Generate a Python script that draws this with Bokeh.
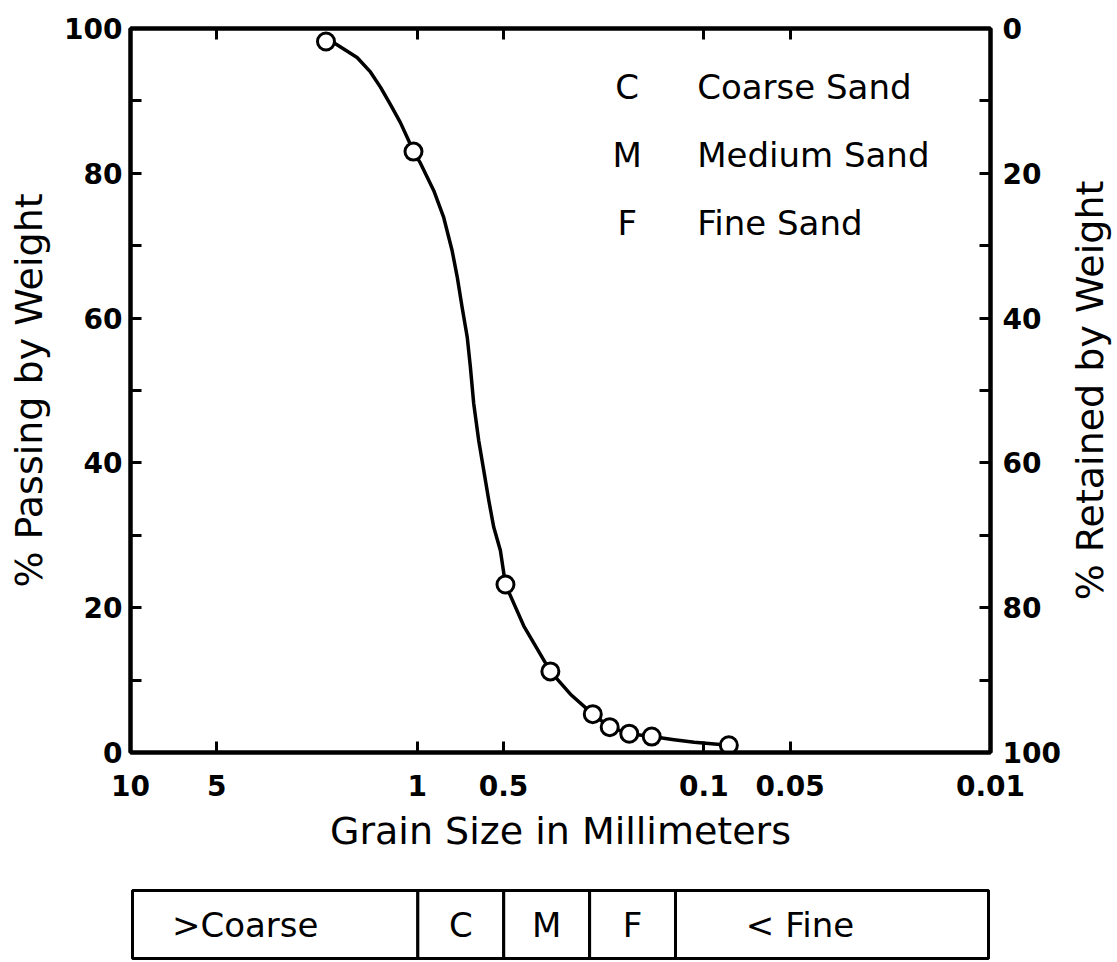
import math
from bokeh.plotting import figure
from bokeh.models import (Range1d, LogAxis, LinearAxis, FixedTicker,
                          CustomJSTickFormatter, Label, ColumnDataSource)
from bokeh.layouts import column, row
from bokeh.core.properties import value
from bokeh.embed import file_html
from bokeh.resources import INLINE

# ---------------- data ----------------
sieve_size_mm = [2.08, 1.03, 0.492, 0.343, 0.244, 0.213, 0.182, 0.152, 0.0818]
percent_passing = [98.2, 83.0, 23.2, 11.2, 5.3, 3.5, 2.6, 2.2, 1.0]

curve_size_mm = [2.08, 1.928, 1.62, 1.456, 1.343, 1.239, 1.144, 1.070, 1.03,
                 0.974, 0.875, 0.808, 0.755, 0.725, 0.697, 0.669, 0.652,
                 0.635, 0.610, 0.586, 0.5625, 0.5405, 0.5125, 0.492, 0.425,
                 0.343, 0.292, 0.244, 0.213, 0.182, 0.152, 0.127, 0.108, 0.0818]
curve_passing = [98.2, 97.9, 96.0, 94.0, 91.9, 89.5, 87.0, 84.5, 83.0,
                 81.4, 77.6, 73.9, 69.3, 65.7, 61.5, 57.4, 53.2,
                 48.2, 43.1, 39.0, 34.8, 31.1, 27.9, 23.2, 17.5,
                 11.2, 8.05, 5.3, 3.5, 2.6, 2.2, 1.77, 1.42, 1.0]

x_tick_values = [10, 5, 1, 0.5, 0.1, 0.05, 0.01]
x_tick_labels = ["10", "5", "1", "0.5", "0.1", "0.05", "0.01"]
y_major_ticks = [0, 20, 40, 60, 80, 100]
y_minor_ticks = [10, 30, 50, 70, 90]

legend_codes = ["C", "M", "F"]
legend_names = ["Coarse Sand", "Medium Sand", "Fine Sand"]

class_labels = [">Coarse", "C", "M", "F", "< Fine"]
class_upper_mm = [10, 1.0, 0.5, 0.25, 0.125]
class_lower_mm = [1.0, 0.5, 0.25, 0.125, 0.01]

right_title = "% Retained by Weight"

# ---------------- styling ----------------
FONT = "DejaVu Sans"
FRAME_W = 860
FRAME_H = 724
BORDER_L = 130
BORDER_T = 28
BORDER_B = 115
TITLE_W = 50
BORDER_R = 1117 - BORDER_L - FRAME_W - TITLE_W
PX_PER_DECADE = FRAME_W / 3.0
LABEL_SIZE = "38px"

p = figure(frame_width=FRAME_W, frame_height=FRAME_H, x_axis_type="log",
           x_range=Range1d(10, 0.01), y_range=Range1d(0, 100),
           output_backend="svg", toolbar_location=None,
           min_border_left=BORDER_L, min_border_right=BORDER_R,
           min_border_top=BORDER_T, min_border_bottom=BORDER_B)
p.grid.visible = False
p.outline_line_color = "black"
p.outline_line_width = 4
p.background_fill_color = "white"
p.border_fill_color = "white"

# bottom axis
xa = p.xaxis[0]
xa.ticker = FixedTicker(ticks=x_tick_values)
xa.formatter = CustomJSTickFormatter(code="return String(tick)")
xa.major_label_overrides = dict(zip([float(v) for v in x_tick_values], x_tick_labels))
xa.axis_label = "Grain Size in Millimeters"

# left axis
ya = p.yaxis[0]
ya.ticker = FixedTicker(ticks=y_major_ticks, minor_ticks=y_minor_ticks)
ya.axis_label = "% Passing by Weight"

# right axis (retained)
p.extra_y_ranges = {"ret": Range1d(100, 0)}
ra = LinearAxis(y_range_name="ret",
                ticker=FixedTicker(ticks=y_major_ticks, minor_ticks=y_minor_ticks))
p.add_layout(ra, "right")

# top axis (ticks only)
ta = LogAxis(ticker=FixedTicker(ticks=x_tick_values),
             formatter=CustomJSTickFormatter(code="return ''"))
p.add_layout(ta, "above")

for ax in [xa, ya, ra, ta]:
    ax.axis_line_width = 4
    ax.axis_line_color = "black"
    ax.major_tick_in = 11
    ax.major_tick_out = 0
    ax.minor_tick_in = 11
    ax.minor_tick_out = 0
    ax.major_tick_line_width = 3
    ax.minor_tick_line_width = 3
    ax.major_tick_line_color = "black"
    ax.minor_tick_line_color = "black"
    ax.major_label_text_font = FONT
    ax.major_label_text_font_style = "bold"
    ax.major_label_text_font_size = "28px"
    ax.major_label_text_color = "black"
    ax.axis_label_text_font = FONT
    ax.axis_label_text_font_style = "normal"
    ax.axis_label_text_font_size = LABEL_SIZE
    ax.axis_label_text_color = "black"

ta.major_label_standoff = 0
ta.major_label_text_font_size = "1px"
xa.major_label_standoff = 22
xa.axis_label_standoff = 10
ya.major_label_standoff = 8
ya.axis_label_standoff = 10
ra.major_label_standoff = 12

# curve and data points
p.line(curve_size_mm, curve_passing, line_color="black", line_width=3.5,
       line_join="round")
p.scatter(sieve_size_mm, percent_passing, marker="circle", size=17,
          fill_color="white", line_color="black", line_width=3)

# key text
legend_y = [91.9, 82.5, 73.1]
for code, name, yy in zip(legend_codes, legend_names, legend_y):
    p.add_layout(Label(x=0.185, y=yy, text=code, text_align="center",
                       text_baseline="alphabetic", text_font=FONT,
                       text_font_size="34px", text_color="black"))
    p.add_layout(Label(x=0.1055, y=yy, text=name, text_align="left",
                       text_baseline="alphabetic", text_font=FONT,
                       text_font_size="34px", text_color="black"))

# ---------------- right-hand axis title strip ----------------
r = figure(frame_width=TITLE_W, frame_height=FRAME_H,
           x_range=Range1d(0, 1), y_range=Range1d(0, 1),
           x_axis_location=None, y_axis_location=None,
           output_backend="svg", toolbar_location=None,
           min_border_left=0, min_border_right=0,
           min_border_top=BORDER_T, min_border_bottom=BORDER_B)
r.grid.visible = False
r.outline_line_color = None
r.background_fill_color = "white"
r.border_fill_color = "white"
r.text(x=[0.45], y=[0.5], text=[right_title], angle=math.pi / 2,
       text_align="center", text_baseline="middle", text_font=value(FONT),
       text_font_size=LABEL_SIZE, text_color="black")

# ---------------- size-class table below ----------------
MARGIN_PX = 2
margin = 10 ** (MARGIN_PX / PX_PER_DECADE)
t = figure(frame_width=FRAME_W, frame_height=95,
           x_axis_type="log",
           x_range=Range1d(10 * margin, 0.01 / margin),
           y_range=Range1d(-4 / 68, 1 + 23 / 68),
           x_axis_location=None, y_axis_location=None,
           output_backend="svg", toolbar_location=None,
           min_border_left=BORDER_L, min_border_right=BORDER_R + TITLE_W,
           min_border_top=0, min_border_bottom=0)
t.grid.visible = False
t.outline_line_color = None
t.background_fill_color = "white"
t.border_fill_color = "white"

label_shift_px = [-30, 0, 0, 0, -32]
src = ColumnDataSource(dict(
    left=class_upper_mm, right=class_lower_mm,
    mid=[math.sqrt(a * b) for a, b in zip(class_upper_mm, class_lower_mm)],
    label=class_labels, dx=label_shift_px,
    bottom=[0] * len(class_labels), top=[1] * len(class_labels),
    ymid=[0.5] * len(class_labels)))
t.quad(left="left", right="right", bottom="bottom", top="top", source=src,
       fill_color="white", line_color="black", line_width=3)
t.text(x="mid", y="ymid", text="label", source=src, x_offset="dx",
       text_align="center", text_baseline="middle", text_font=value(FONT),
       text_font_size="34px", text_color="black")

layout = column(row(p, r, spacing=0), t, spacing=0)
open("out.html", "w").write(file_html(layout, INLINE))
